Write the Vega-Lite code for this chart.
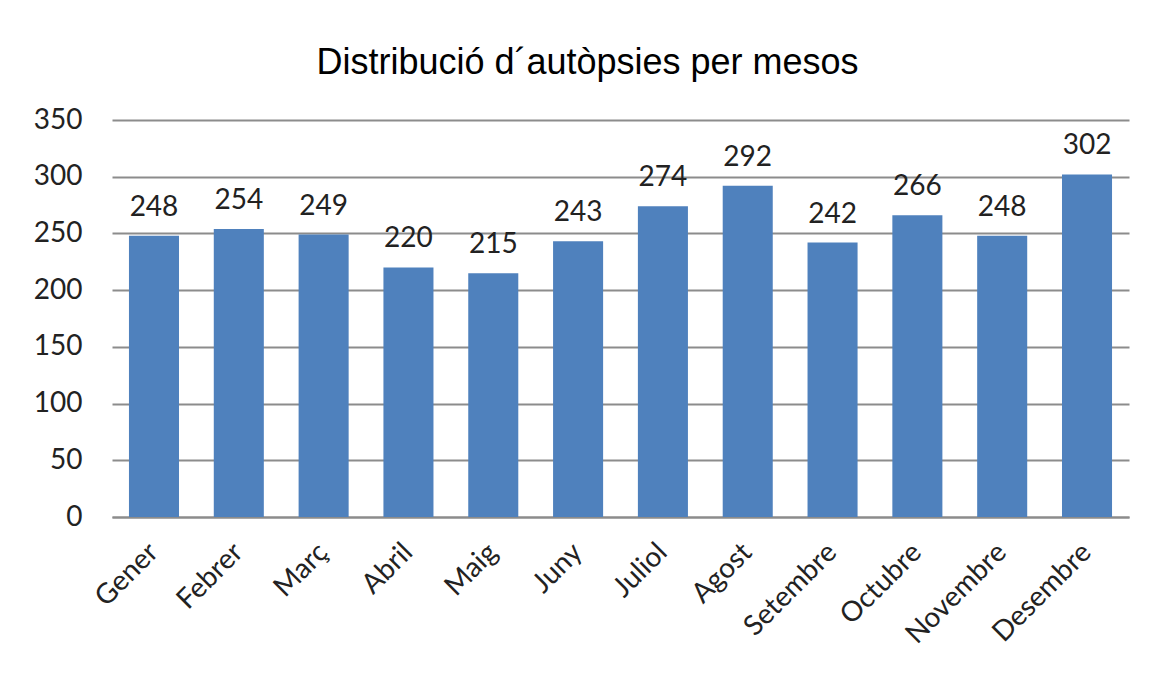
{
  "$schema": "https://vega.github.io/schema/vega-lite/v6.json",
  "width": 1017,
  "height": 397,
  "autosize": {"type": "none"},
  "padding": {"left": 112, "top": 120, "right": 25, "bottom": 163},
  "background": "white",
  "title": {
    "text": "Distribució d´autòpsies per mesos",
    "font": "Liberation Sans",
    "fontSize": 36,
    "fontWeight": "normal",
    "color": "#000000",
    "anchor": "middle",
    "dx": -33,
    "offset": 24
  },
  "data": {
    "values": [
      {"mes": "Gener", "n": 248},
      {"mes": "Febrer", "n": 254},
      {"mes": "Març", "n": 249},
      {"mes": "Abril", "n": 220},
      {"mes": "Maig", "n": 215},
      {"mes": "Juny", "n": 243},
      {"mes": "Juliol", "n": 274},
      {"mes": "Agost", "n": 292},
      {"mes": "Setembre", "n": 242},
      {"mes": "Octubre", "n": 266},
      {"mes": "Novembre", "n": 248},
      {"mes": "Desembre", "n": 302}
    ]
  },
  "encoding": {
    "x": {
      "field": "mes",
      "type": "nominal",
      "sort": null,
      "scale": {"paddingInner": 0.41, "paddingOuter": 0.2},
      "axis": {
        "title": null,
        "labelAngle": -45,
        "labelAlign": "right",
        "labelBaseline": "middle",
        "labelFont": "Lato",
        "labelFontSize": 28,
        "labelColor": "#222222",
        "labelPadding": 31,
        "ticks": false,
        "domainColor": "#8c8c8c",
        "domainWidth": 2
      }
    },
    "y": {
      "field": "n",
      "type": "quantitative",
      "scale": {"domain": [0, 350], "nice": false},
      "axis": {
        "title": null,
        "values": [0, 50, 100, 150, 200, 250, 300, 350],
        "labelFont": "Lato",
        "labelFontSize": 28,
        "labelColor": "#222222",
        "labelPadding": 30,
        "ticks": false,
        "domain": false,
        "grid": true,
        "gridColor": "#8c8c8c",
        "gridWidth": 2
      }
    }
  },
  "layer": [
    {"mark": {"type": "bar", "color": "#4f81bd"}},
    {
      "mark": {
        "type": "text",
        "font": "Lato",
        "fontSize": 28,
        "color": "#222222",
        "baseline": "bottom",
        "dy": -14
      },
      "encoding": {"text": {"field": "n", "type": "quantitative"}}
    }
  ],
  "config": {"view": {"stroke": null}}
}
